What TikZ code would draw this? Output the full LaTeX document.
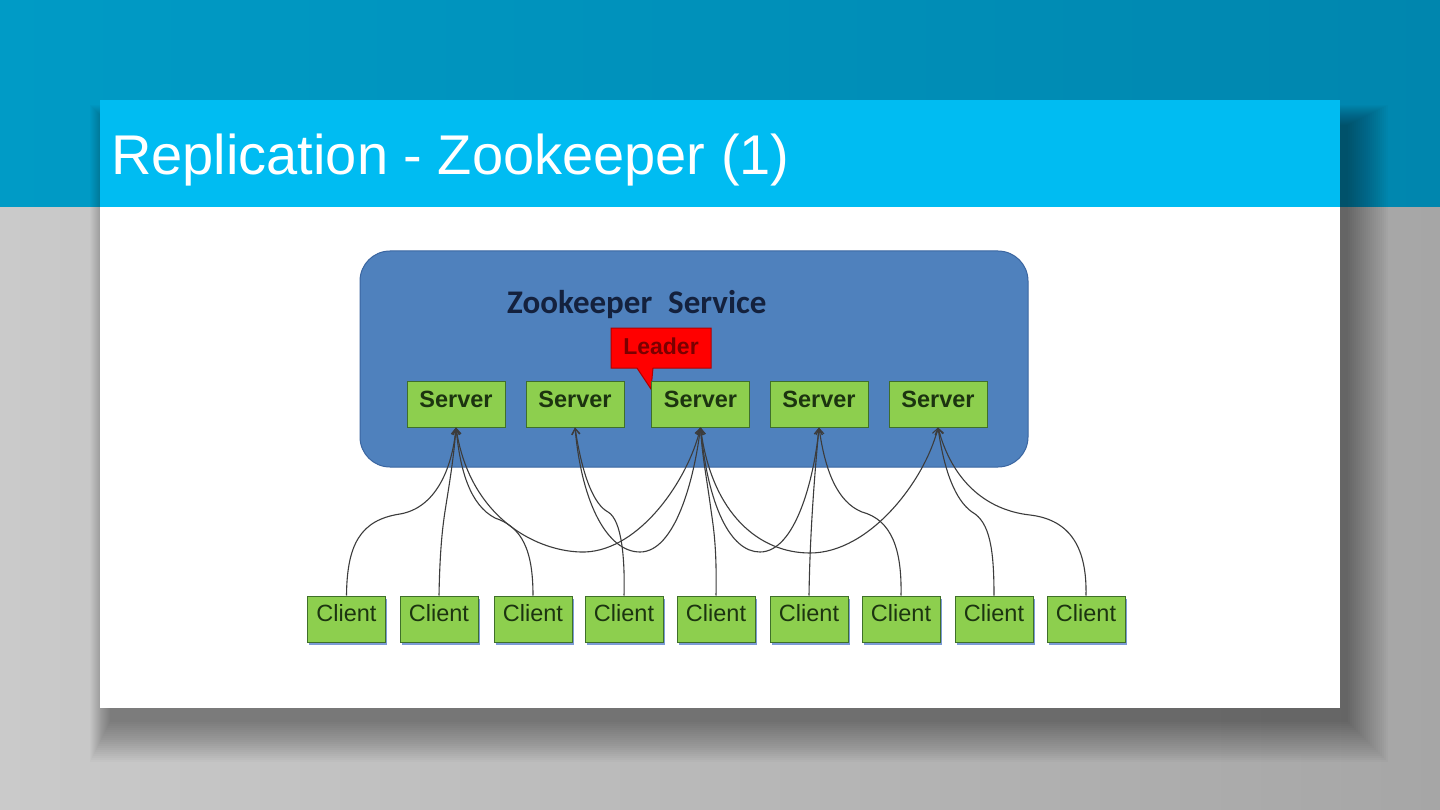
\documentclass[tikz,border=0pt]{standalone}
\usepackage{fontspec}
\setmainfont{Liberation Sans}
\newfontfamily\carlito{Carlito}
\usetikzlibrary{arrows.meta,shadows}
\definecolor{tealA}{HTML}{009BC6}
\definecolor{tealB}{HTML}{0086AE}
\definecolor{grayA}{HTML}{CACACA}
\definecolor{grayB}{HTML}{A6A6A6}
\definecolor{titlecyan}{HTML}{00BCF2}
\definecolor{svcblue}{HTML}{4F81BD}
\definecolor{svcborder}{HTML}{3A65A0}
\definecolor{boxgreen}{HTML}{8DCF4E}
\definecolor{boxborder}{HTML}{3F6F2A}
\definecolor{textgreen}{HTML}{1C3410}
\definecolor{navytext}{HTML}{14213D}
\definecolor{linegray}{HTML}{3C3C3C}
\definecolor{leaderred}{HTML}{FF0000}
\definecolor{leaderborder}{HTML}{B00000}
\definecolor{leadertext}{HTML}{7A0000}
\definecolor{shadowblue}{HTML}{5C82CC}
\tikzset{
  serverbox/.style={draw=boxborder, line width=1pt, fill=boxgreen, inner sep=0pt,
    minimum width=98pt, minimum height=46pt, text height=17pt, text depth=10pt,
    font=\fontsize{23.5}{26}\selectfont\bfseries, text=textgreen},
  clientbox/.style={draw=boxborder, line width=1pt, fill=boxgreen, inner sep=0pt,
    minimum width=78pt, minimum height=46pt, text height=17pt, text depth=13pt,
    font=\fontsize{23.5}{26}\selectfont, text=textgreen,
    drop shadow={shadow xshift=1.5pt, shadow yshift=-3pt, opacity=0.8, fill=shadowblue}},
  link/.style={draw=linegray, line width=1.1pt, -{Straight Barb[length=6pt,width=8pt]}},
  arc/.style={draw=linegray, line width=1.1pt, {Straight Barb[length=6pt,width=8pt]}-{Straight Barb[length=6pt,width=8pt]}}
}
\begin{document}
\begin{tikzpicture}[x=1pt,y=-1pt]
\useasboundingbox (0,0) rectangle (1440,810);
% backgrounds
\shade[left color=grayA, right color=grayB] (0,207) rectangle (1440,810);
\shade[left color=tealA, right color=tealB] (0,0) rectangle (1440,207);
% card shadow (soft, down-right)
\foreach \i in {0,2,...,40} {
  \fill[black, opacity=0.02] (110-\i/2,125-\i/2) rectangle (1348+\i,722+\i);
}
% card
\fill[white] (100,100) rectangle (1340,708);
\fill[titlecyan] (100,100) rectangle (1340,207);
\node[anchor=base west, inner sep=0pt, text=white, font=\fontsize{56}{60}\selectfont] (title) at (111,175) {Replication - Zookeeper (1)};

% service box
\draw[fill=svcblue, draw=svcborder, line width=1pt, rounded corners=30pt] (360,251) rectangle (1028,467);
\node[anchor=base west, inner sep=0pt, text=navytext, font=\carlito\bfseries\fontsize{33}{36}\selectfont] (svc) at (507,313) {Zookeeper\hspace{16pt}Service};

% leader callout
\draw[fill=leaderred, draw=leaderborder, line width=1pt] (611,328) -- (711,328) -- (711,368) -- (653,368) -- (651,389) -- (637,368) -- (611,368) -- cycle;
\node[anchor=base, inner sep=0pt, text=leadertext, font=\fontsize{23}{26}\selectfont\bfseries] (leader) at (661,354) {Leader};

% servers
\node[serverbox] (s1) at (456,404) {Server};
\node[serverbox] (s2) at (575,404) {Server};
\node[serverbox] (s3) at (700.5,404) {Server};
\node[serverbox] (s4) at (819,404) {Server};
\node[serverbox] (s5) at (938,404) {Server};

% clients
\node[clientbox] (c1) at (346.5,619) {Client};
\node[clientbox] (c2) at (439,619) {Client};
\node[clientbox] (c3) at (533,619) {Client};
\node[clientbox] (c4) at (624,619) {Client};
\node[clientbox] (c5) at (716,619) {Client};
\node[clientbox] (c6) at (809,619) {Client};
\node[clientbox] (c7) at (901,619) {Client};
\node[clientbox] (c8) at (994,619) {Client};
\node[clientbox] (c9) at (1086,619) {Client};

% client connections
\draw[link] (c1.north) .. controls (347,545) and (360,520) .. (400,514) .. controls (435,508) and (452,470) .. (s1.south);
\draw[link] (c2.north) .. controls (440,540) and (444,518) .. (446,505) .. controls (450,480) and (454,455) .. (s1.south);
\draw[link] (c3.north) .. controls (533,550) and (522,527) .. (495,518) .. controls (470,505) and (460,470) .. (s1.south);
\draw[link] (c4.north) .. controls (625,560) and (622,520) .. (608,512) .. controls (595,505) and (583,480) .. (s2.south);
\draw[link] (c5.north) .. controls (717,545) and (713,525) .. (711,510) .. controls (707,480) and (702,455) .. (s3.south);
\draw[link] (c6.north) .. controls (810,530) and (815,470) .. (s4.south);
\draw[link] (c7.north) .. controls (902,550) and (892,520) .. (862,512) .. controls (837,502) and (825,470) .. (s4.south);
\draw[link] (c8.north) .. controls (994,550) and (990,522) .. (972,512) .. controls (955,500) and (944,470) .. (s5.south);
\draw[link] (c9.north) .. controls (1087,550) and (1072,520) .. (1030,515) .. controls (985,510) and (952,480) .. (s5.south);

% server-to-server arcs
\draw[arc] (s1.south) .. controls (470,520) and (540,553) .. (585,552) .. controls (640,550) and (688,480) .. (s3.south);
\draw[arc] (s2.south) .. controls (582,505) and (608,552) .. (640,552) .. controls (675,552) and (694,480) .. (s3.south);
\draw[arc] (s3.south) .. controls (708,505) and (730,552) .. (760,552) .. controls (795,552) and (814,480) .. (s4.south);
\draw[arc] (s3.south) .. controls (712,515) and (760,553) .. (810,553) .. controls (870,553) and (925,480) .. (s5.south);
\end{tikzpicture}
\end{document}
